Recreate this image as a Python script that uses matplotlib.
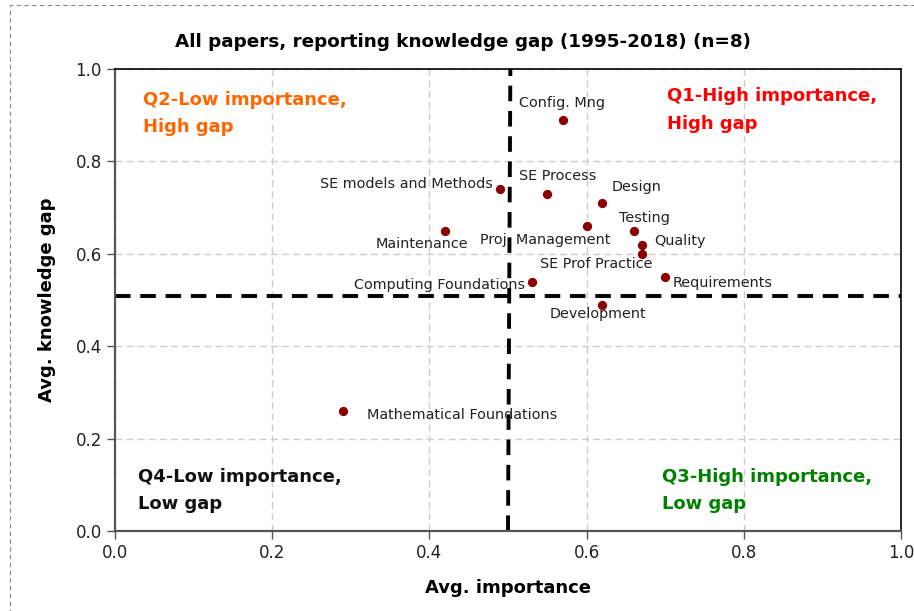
import matplotlib
matplotlib.use("Agg")
import matplotlib.pyplot as plt
from matplotlib.patches import Rectangle

# --- data ---
areas = ["Config. Mng", "SE models and Methods", "SE Process", "Design",
         "Maintenance", "Proj. Management", "Testing", "Quality",
         "SE Prof Practice", "Requirements", "Computing Foundations",
         "Development", "Mathematical Foundations"]
importance = [0.57, 0.49, 0.55, 0.62, 0.42, 0.60, 0.66, 0.67, 0.67, 0.70, 0.53, 0.62, 0.29]
gap = [0.89, 0.74, 0.73, 0.71, 0.65, 0.66, 0.65, 0.62, 0.60, 0.55, 0.54, 0.49, 0.26]

# label placement (pixel offsets, alignment)
label_pos = {
    "Config. Mng": (-1, 17, "center"),
    "SE models and Methods": (-7, 5, "right"),
    "SE Process": (10, 18, "center"),
    "Design": (9, 16, "left"),
    "Maintenance": (-23, -13, "center"),
    "Proj. Management": (-41, -14, "center"),
    "Testing": (11, 13, "center"),
    "Quality": (13, 4, "left"),
    "SE Prof Practice": (-45, -10, "center"),
    "Requirements": (7, -6, "left"),
    "Computing Foundations": (-6, -3, "right"),
    "Development": (-4, -9, "center"),
    "Mathematical Foundations": (24, -4, "left"),
}

plt.rcParams["font.family"] = "DejaVu Sans"

fig = plt.figure(figsize=(9.14, 6.11), dpi=100)
ax = fig.add_axes([0.1258, 0.131, 0.86, 0.756])

# dashed frame around the figure
fig.patches.append(Rectangle((10 / 914, -0.05), 1.2, 1.05 - 5 / 611,
                             transform=fig.transFigure, fill=False,
                             edgecolor="#888888", linestyle=(0, (4, 3)), lw=0.8))

ax.set_xlim(0, 1)
ax.set_ylim(0, 1)
ax.set_xticks([0, 0.2, 0.4, 0.6, 0.8, 1.0])
ax.set_yticks([0, 0.2, 0.4, 0.6, 0.8, 1.0])
ax.xaxis.set_major_formatter(matplotlib.ticker.FormatStrFormatter("%.1f"))
ax.yaxis.set_major_formatter(matplotlib.ticker.FormatStrFormatter("%.1f"))
ax.grid(True, color="#cccccc", linestyle=(0, (5, 3)), lw=1)
ax.set_axisbelow(True)
ax.tick_params(labelsize=12, length=6, width=1, color="#555555", labelcolor="#222222")

for side in ["left", "bottom"]:
    ax.spines[side].set_color("#555555")
    ax.spines[side].set_linewidth(1.6)
for side in ["top", "right"]:
    ax.spines[side].set_color("black")
    ax.spines[side].set_linewidth(1.2)

# quadrant dividers
ax.plot([0.5, 0.503], [0, 1], color="black", lw=2.8, linestyle=(0, (4, 2.5)), zorder=2)
ax.plot([0, 1], [0.509, 0.509], color="black", lw=2.8, linestyle=(0, (4, 2.5)), zorder=2)

ax.scatter(importance, gap, s=32, color="#8b0000", zorder=3)
for name, xv, yv in zip(areas, importance, gap):
    dx, dy, ha = label_pos[name]
    ax.annotate(name, (xv, yv), xytext=(dx, dy), textcoords="offset pixels",
                ha=ha, va="center", fontsize=10.4, color="#222222")

quad_kw = dict(fontsize=13, fontweight="bold", ha="left", va="top", linespacing=1.68)
ax.text(0.036, 0.953, "Q2-Low importance,\nHigh gap", color="#ff6600", **quad_kw)
ax.text(0.702, 0.961, "Q1-High importance,\nHigh gap", color="#ff0000", **quad_kw)
ax.text(0.029, 0.137, "Q4-Low importance,\nLow gap", color="#111111", **quad_kw)
ax.text(0.696, 0.137, "Q3-High importance,\nLow gap", color="#008000", **quad_kw)

fig.text(463 / 914, 1 - 42 / 611, "All papers, reporting knowledge gap (1995-2018) (n=8)",
         fontsize=13.2, fontweight="bold", ha="center", va="center")
ax.set_xlabel("Avg. importance", fontsize=13, fontweight="bold", labelpad=12)
ax.set_ylabel("Avg. knowledge gap", fontsize=13, fontweight="bold", labelpad=14)

fig.savefig("out.png", dpi=100)
